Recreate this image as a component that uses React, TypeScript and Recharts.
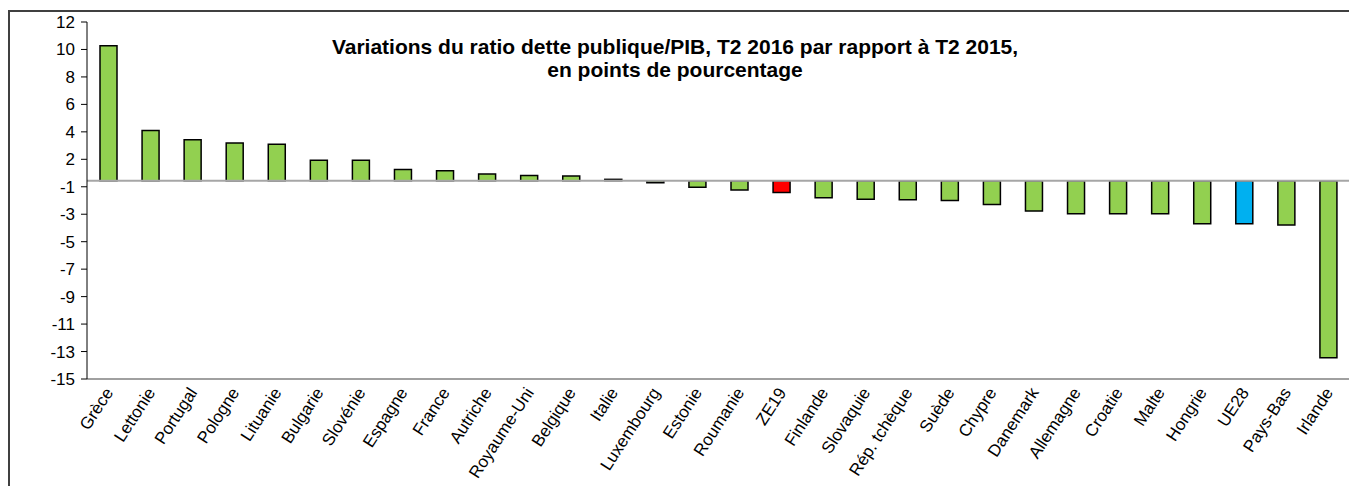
import { BarChart, Bar, Cell, XAxis, YAxis, ReferenceLine } from 'recharts'

const countries = [
  'Grèce', 'Lettonie', 'Portugal', 'Pologne', 'Lituanie', 'Bulgarie', 'Slovénie', 'Espagne',
  'France', 'Autriche', 'Royaume-Uni', 'Belgique', 'Italie', 'Luxembourg', 'Estonie', 'Roumanie',
  'ZE19', 'Finlande', 'Slovaquie', 'Rép. tchèque', 'Suède', 'Chypre', 'Danemark', 'Allemagne',
  'Croatie', 'Malte', 'Hongrie', 'UE28', 'Pays-Bas', 'Irlande',
]

const variations = [
  10.2, 3.8, 3.1, 2.85, 2.75, 1.55, 1.55, 0.85,
  0.75, 0.5, 0.4, 0.35, 0.1, -0.15, -0.5, -0.7,
  -0.9, -1.3, -1.4, -1.45, -1.5, -1.8, -2.3, -2.5,
  -2.5, -2.5, -3.25, -3.25, -3.35, -13.4,
]

// the axis runs from -15 to 12 in 13 equal steps, labels as printed on the original
const yTickLabels = ['12', '10', '8', '6', '4', '2', '-1', '-3', '-5', '-7', '-9', '-11', '-13', '-15']
const yMax = 12
const yMin = -15
const yTicks = yTickLabels.map((_, i) => yMax - (i * (yMax - yMin)) / (yTickLabels.length - 1))

const GREEN = '#92D050'
const highlight: Record<string, string> = { ZE19: '#FF0000', UE28: '#00B0F0' }

const data = countries.map((name, i) => ({ name, value: variations[i] }))

const FONT = '"Liberation Sans", Arial, sans-serif'

function CategoryTick({ x, y, payload }: any) {
  return (
    <text
      x={x + 2}
      y={y + 3}
      transform={`rotate(-57, ${x + 2}, ${y + 3})`}
      textAnchor="end"
      dominantBaseline="middle"
      fontSize={17}
      fontFamily={FONT}
      fill="#000"
    >
      {payload.value}
    </text>
  )
}

function yLabel(v: number) {
  let best = 0
  yTicks.forEach((t, i) => {
    if (Math.abs(t - v) < Math.abs(yTicks[best] - v)) best = i
  })
  return yTickLabels[best]
}

export default function App() {
  return (
    <div
      style={{
        position: 'relative',
        width: 1349,
        height: 478,
        marginTop: 2,
        borderTop: '2px solid #404040',
        borderLeft: '2px solid #404040',
        boxSizing: 'border-box',
        fontFamily: FONT,
      }}
    >
      <div
        style={{
          position: 'absolute',
          left: 0,
          top: 23,
          width: 1330,
          textAlign: 'center',
          fontWeight: 'bold',
          fontSize: 21,
          lineHeight: '23px',
          color: '#000',
        }}
      >
        Variations du ratio dette publique/PIB, T2 2016 par rapport à T2 2015,
        <br />
        en points de pourcentage
      </div>
      <BarChart
        width={1347}
        height={476}
        data={data}
        margin={{ top: 10, right: 8, left: 17, bottom: 8 }}
        barSize={17}
      >
        <XAxis
          dataKey="name"
          interval={0}
          height={101}
          tickLine={false}
          axisLine={{ stroke: '#a0a0a0', strokeWidth: 2 }}
          tick={<CategoryTick />}
        />
        <XAxis xAxisId="top" dataKey="name" orientation="top" height={0} tick={false} tickLine={false} axisLine={{ stroke: '#a0a0a0', strokeWidth: 2 }} />
        <YAxis
          domain={[yMin, yMax]}
          ticks={yTicks}
          interval={0}
          width={60}
          tickSize={6}
          tickMargin={6}
          tickFormatter={yLabel}
          axisLine={{ stroke: '#000' }}
          tickLine={{ stroke: '#000' }}
          tick={{ fill: '#000', fontSize: 17, fontFamily: FONT }}
        />
        <YAxis yAxisId="right" orientation="right" width={0} tick={false} tickLine={false} axisLine={{ stroke: '#a0a0a0', strokeWidth: 2 }} />
        <Bar dataKey="value" stroke="#000" strokeWidth={1.5} isAnimationActive={false}>
          {data.map((d) => (
            <Cell key={d.name} fill={highlight[d.name] ?? GREEN} />
          ))}
        </Bar>
        <ReferenceLine y={0} stroke="#a6a6a6" strokeWidth={2} />
      </BarChart>
    </div>
  )
}
